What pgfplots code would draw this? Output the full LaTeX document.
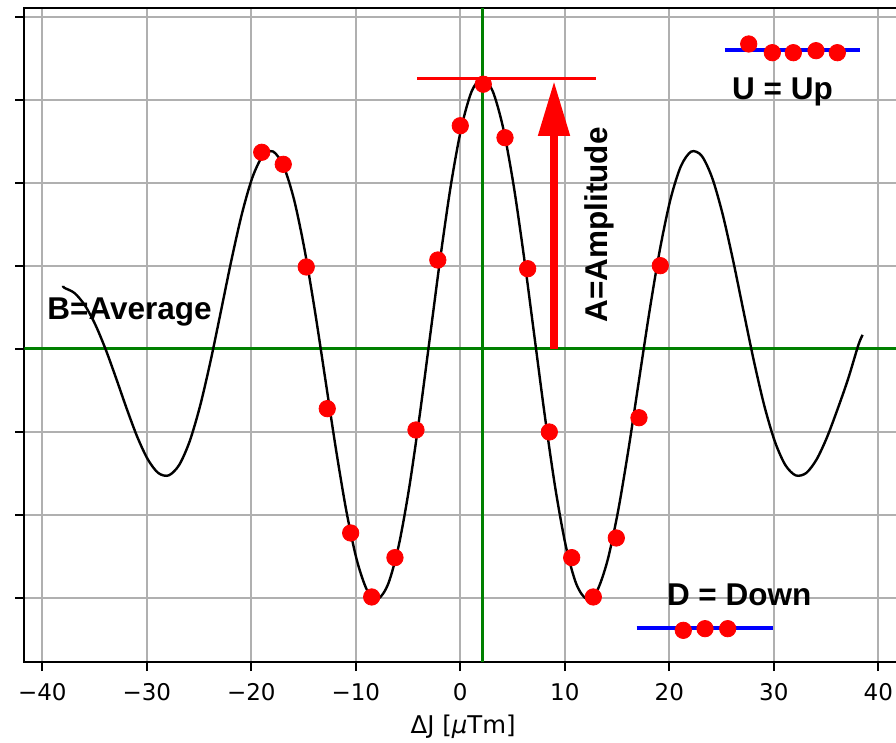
\documentclass[border=0pt]{standalone}
\usepackage{fontspec}
\setmainfont{DejaVu Sans}
\newfontfamily\annfont{Liberation Sans}
\usepackage{pgfplots}
\pgfplotsset{compat=1.18}
\usetikzlibrary{arrows.meta}
\definecolor{gridgray}{RGB}{176,176,176}
\definecolor{mplgreen}{RGB}{0,128,0}
\definecolor{mplblue}{RGB}{0,0,255}
\definecolor{mplred}{RGB}{255,0,0}
\begin{document}
\begin{tikzpicture}
\begin{axis}[name=ax, at={(0,0)}, anchor=south west,
  scale only axis, width=438.85pt, height=327pt,
  xmin=-41.72, xmax=42.27, ymin=-3.775, ymax=4.105,
  xtick={-40,-30,-20,-10,0,10,20,30,40},
  xticklabels={−40,−30,−20,−10,0,10,20,30,40},
  ytick={-3,-2,-1,0,1,2,3,4}, yticklabels={},
  xtick pos=bottom, ytick pos=left,
  tick align=outside, major tick length=4.4pt,
  every tick/.style={black, line width=0.9pt},
  grid=major, grid style={gridgray, line width=0.9pt},
  axis line style={black, line width=1pt},
  ticklabel style={font=\fontsize{11.5}{13}\selectfont},
  xticklabel style={anchor=north, inner sep=0pt, yshift=-6pt},
  xlabel={ΔJ [\textit{μ}Tm]},
  xlabel style={font=\fontsize{12.2}{14}\selectfont, at={(axis description cs:0.5,0)}, anchor=center, yshift=-32.35pt},
]
% average and centre lines
\addplot[mplgreen, line width=1.5pt] coordinates {(-41.72,0) (42.27,0)};
\addplot[mplgreen, line width=1.5pt] coordinates {(2.1,-3.775) (2.1,4.105)};
% fitted curve
\addplot[black, line width=1.2pt, smooth] coordinates {
(-38.0,0.76) (-37.9,0.7379) (-36.9,0.6725) (-35.9,0.5211) (-34.9,0.2869) (-33.9,-0.0164)
(-32.9,-0.3651) (-31.9,-0.7263) (-30.9,-1.0617) (-29.9,-1.3304) (-28.9,-1.4944)
(-27.9,-1.5230) (-26.9,-1.3973) (-25.9,-1.1139) (-24.9,-0.6868) (-23.9,-0.1473)
(-22.9,0.4579) (-21.9,1.0705) (-20.9,1.6266) (-19.9,2.0636) (-18.9,2.3273)
(-17.9,2.3784) (-16.9,2.1994) (-15.9,1.7963) (-14.9,1.1965) (-13.9,0.4497)
(-12.9,-0.3771) (-11.9,-1.2053) (-10.9,-1.9531) (-9.9,-2.5430) (-8.9,-2.9109)
(-7.9,-3.0129) (-6.9,-2.8307) (-5.9,-2.3740) (-4.9,-1.6809) (-3.9,-0.8136)
(-2.9,0.1463) (-1.9,1.1069) (-0.9,1.9745) (0.1,2.6641) (1.1,3.1072)
(2.1,3.26) (3.1,3.1072) (4.1,2.6641) (5.1,1.9745) (6.1,1.1069)
(7.1,0.1463) (8.1,-0.8136) (9.1,-1.6809) (10.1,-2.3740) (11.1,-2.8307)
(12.1,-3.0129) (13.1,-2.9109) (14.1,-2.5430) (15.1,-1.9531) (16.1,-1.2053)
(17.1,-0.3771) (18.1,0.4497) (19.1,1.1965) (20.1,1.7963) (21.1,2.1994)
(22.1,2.3784) (23.1,2.3273) (24.1,2.0636) (25.1,1.6266) (26.1,1.0705)
(27.1,0.4579) (28.1,-0.1473) (29.1,-0.6868) (30.1,-1.1139) (31.1,-1.3973)
(32.1,-1.5230) (33.1,-1.4944) (34.1,-1.3304) (35.1,-1.0617) (36.1,-0.7263)
(37.1,-0.3651) (38.1,0.05) (38.5,0.17)
};
% amplitude marker line
\addplot[mplred, line width=1.8pt] coordinates {(-4.11,3.26) (12.96,3.26)};
% measured points
\addplot[only marks, mark=*, mark size=4.1pt, color=mplred] coordinates {
(-19.0,2.37) (-16.94,2.225) (-14.74,0.988) (-12.73,-0.719) (-10.49,-2.217)
(-8.48,-2.988) (-6.25,-2.514) (-4.24,-0.976) (-2.15,1.072) (0.0,2.69)
(2.2,3.19) (4.28,2.546) (6.45,0.967) (8.52,-1.0) (10.66,-2.514)
(12.73,-2.988) (14.93,-2.277) (17.1,-0.828) (19.14,1.004)
};
% up / down legends
\addplot[mplblue, line width=1.9pt] coordinates {(25.33,3.6) (38.25,3.6)};
\addplot[only marks, mark=*, mark size=4.1pt, color=mplred] coordinates {
(27.6,3.675) (29.86,3.57) (31.87,3.57) (34.04,3.594) (36.08,3.57)};
\addplot[mplblue, line width=1.9pt] coordinates {(16.88,-3.365) (29.9,-3.365)};
\addplot[only marks, mark=*, mark size=4.1pt, color=mplred] coordinates {
(21.34,-3.39) (23.42,-3.37) (25.59,-3.37)};
% arrow
\draw[mplred, line width=4pt, -{Triangle[width=15pt, length=27.5pt]}] (axis cs:8.97,0) -- (axis cs:8.97,3.23);
% texts
\node[anchor=base west, inner sep=0pt, font=\annfont\bfseries\fontsize{15.75}{18}\selectfont] at (axis cs:-39.55,0.361) {B=Average};
\node[anchor=center, inner sep=0pt, rotate=90, font=\annfont\bfseries\fontsize{15.75}{18}\selectfont] at (axis cs:13.27,1.494) {A=Amplitude};
\node[anchor=base, inner sep=0pt, font=\annfont\bfseries\fontsize{15.75}{18}\selectfont] at (axis cs:30.83,3.0) {U = Up};
\node[anchor=base, inner sep=0pt, font=\annfont\bfseries\fontsize{15.75}{18}\selectfont] at (axis cs:26.69,-3.096) {D = Down};
\end{axis}
\pgfresetboundingbox
\path[use as bounding box] ([shift={(-12.15pt,-40.35pt)}]ax.south west) rectangle ([shift={(-3pt,4.15pt)}]ax.north east);
\end{tikzpicture}
\end{document}
